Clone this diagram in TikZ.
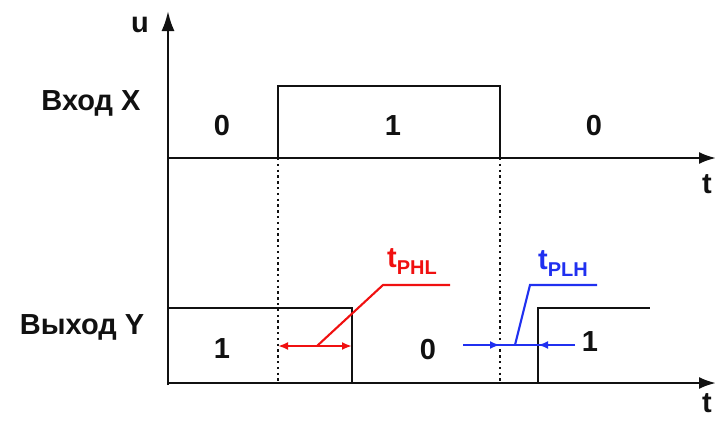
\documentclass[tikz,border=0pt]{standalone}
\usepackage{fontspec}
\setmainfont{Liberation Sans}
\usetikzlibrary{arrows.meta,positioning,calc}
\definecolor{ink}{HTML}{111111}
\definecolor{phl}{HTML}{F01010}
\definecolor{plh}{HTML}{2030F0}
\newcommand{\sub}[1]{\raisebox{-7pt}{\fontsize{20}{24}\selectfont #1}}

\begin{document}
\begin{tikzpicture}[x=1pt,y=-1pt,font=\bfseries\fontsize{29}{34}\selectfont,
              ax/.style={ink,line width=2.4pt},
              sig/.style={ink,line width=2.6pt},
              guide/.style={ink,line width=2.3pt,dash pattern=on 2.3pt off 3.5pt},
              dim/.style={line width=2.1pt},
              tip/.style={-{Latex[length=10pt,width=8pt]}},
              lbl/.style={inner sep=0,text=ink}]
              \useasboundingbox (0,0) rectangle (715,421);
              % axes
              \coordinate (o1) at (168,385);
              \coordinate (up) at (168,11);
              \coordinate (x0) at (168,158);
              \coordinate (x1) at (716,158);
              \coordinate (y0) at (168,383);
              \coordinate (y1) at (716,383);
              \draw[ax,-{Latex[length=20pt,width=13pt]}] (o1) -- (up);
              \draw[ax,-{Latex[length=17pt,width=12pt]}] (x0) -- (x1);
              \draw[ax,-{Latex[length=17pt,width=12pt]}] (y0) -- (y1);
              \node[lbl] (u) at (140,25) {u};
              \node[lbl] (tx) at (707,184) {t};
              \node[lbl] (ty) at (707,403) {t};
              % input X
              \coordinate (xa) at (278,158);
              \coordinate (xb) at (278,86);
              \coordinate (xc) at (500,86);
              \coordinate (xd) at (500,158);
              \draw[sig] (xa) -- (xb) -- (xc) -- (xd);
              \node[lbl] (inx) at (91,103) {Вход X};
              \node[lbl] (x0l) at (222,126) {0};
              \node[lbl] (x1l) at (393,126) {1};
              \node[lbl] (x2l) at (594,126) {0};
              % output Y
              \coordinate (ya) at (168,308);
              \coordinate (yb) at (352,308);
              \coordinate (yc) at (352,383);
              \coordinate (yd) at (538,383);
              \coordinate (ye) at (538,308);
              \coordinate (yf) at (650,308);
              \draw[sig] (ya) -- (yb) -- (yc);
              \draw[sig] (yd) -- (ye) -- (yf);
              \node[lbl] (outy) at (82,327) {Выход Y};
              \node[lbl] (y0l) at (222,349) {1};
              \node[lbl] (y1l) at (428,350) {0};
              \node[lbl] (y2l) at (590,342) {1};
              % guides
              \coordinate (ga) at (278,383);
              \coordinate (gb) at (500,383);
              \draw[guide] (xa) -- (ga);
              \draw[guide] (xd) -- (gb);
              % t_PHL
              \coordinate (ra) at (278,346);
              \coordinate (rb) at (352,346);
              \coordinate (rm) at (317,346);
              \coordinate (rk) at (383,285);
              \coordinate (re) at (450,285);
              \draw[dim,phl,{Latex[length=10pt,width=8pt]}-{Latex[length=10pt,width=8pt]}] (ra) -- (rb);
              \draw[dim,phl] (rm) -- (rk) -- (re);
              \node[inner sep=0,text=phl] (phl) at (412,262) {t\sub{PHL}};
              % t_PLH
              \coordinate (ba) at (463,345);
              \coordinate (bb) at (500,345);
              \coordinate (bc) at (575,345);
              \coordinate (bd) at (538,345);
              \coordinate (bm) at (515,345);
              \coordinate (bk) at (530,285);
              \coordinate (be) at (597,285);
              \draw[dim,plh] (ba) -- (bc);
              \draw[dim,plh,tip] (ba) -- (bb);
              \draw[dim,plh,tip] (bc) -- (bd);
              \draw[dim,plh] (bm) -- (bk) -- (be);
              \node[inner sep=0,text=plh] (plh) at (563,264) {t\sub{PLH}};
            \end{tikzpicture}
\end{document}
